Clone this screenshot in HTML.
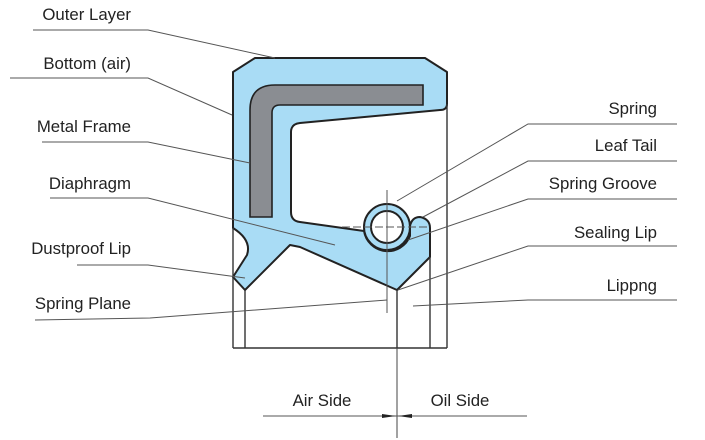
<!DOCTYPE html>
<html><head><meta charset="utf-8"><style>
html,body{margin:0;padding:0;background:#fff;}
svg{display:block;}
text{font-family:"Liberation Sans",Arial,sans-serif;font-size:16.8px;fill:#222;}
</style></head><body>
<svg width="705" height="440" viewBox="0 0 705 440" xmlns="http://www.w3.org/2000/svg">
<path d="M233,72 L255,58 L425,58 L447,72 L447,104 Q447,110 440,110 L300,123 Q291,124 291,132 L291,212 Q291,221 300,222 L364,231 A24,24 0 0 0 410,236 L410,226 Q412,217 420,217 Q430,219 430,228 L430,257 L397,290 L300,247 L290,245 L245,290 L233,277 L247,255 Q252,240 233,228 Z" fill="#a9dcf5" stroke="#222" stroke-width="2" stroke-linejoin="round"/>
<circle cx="387" cy="227" r="23" fill="#a9dcf5" stroke="#222" stroke-width="2"/>
<circle cx="387" cy="227" r="16" fill="#fff" stroke="#222" stroke-width="2"/>
<path d="M250,217 L250,110 Q250,85 275,85 L423,85 L423,105 L280,105 Q272,105 272,113 L272,217 Z" fill="#8a8d92" stroke="#222" stroke-width="1.6"/>
<g stroke="#555" stroke-width="1">
<line x1="387" y1="190" x2="387" y2="313"/>
<line x1="342" y1="227" x2="430" y2="227" stroke-dasharray="8,3"/>
</g>
<g stroke="#333" stroke-width="1.4" fill="none">
<line x1="233" y1="228" x2="233" y2="348"/>
<line x1="245" y1="290" x2="245" y2="348"/>
<line x1="397" y1="290" x2="397" y2="348"/>
<line x1="430" y1="257" x2="430" y2="348"/>
<line x1="447" y1="104" x2="447" y2="348"/>
<line x1="233" y1="348" x2="447" y2="348"/>
</g>
<line x1="397" y1="348" x2="397" y2="438" stroke="#444" stroke-width="1"/>
<g stroke="#555" stroke-width="1" fill="none">
<polyline points="33,30 148,30 275,58"/>
<polyline points="10,78 148,78 232,115"/>
<polyline points="42,142 148,142 250,163"/>
<polyline points="50,198 148,198 335,245"/>
<polyline points="77,265 148,265 245,278"/>
<polyline points="35,320 150,318 387,300"/>
<polyline points="677,124 528,124 397,201"/>
<polyline points="677,161 528,161 423,217"/>
<polyline points="677,199 528,199 408,240"/>
<polyline points="677,246 528,246 398,290"/>
<polyline points="677,300 528,300 413,306"/>
<line x1="263" y1="416" x2="527" y2="416"/>
</g>
<path d="M382,414 L396,416 L382,418 Z M412,414 L398,416 L412,418 Z" fill="#222"/>
<g text-anchor="end">
<text x="131" y="20">Outer Layer</text>
<text x="131" y="69">Bottom (air)</text>
<text x="131" y="132">Metal Frame</text>
<text x="131" y="189">Diaphragm</text>
<text x="131" y="254">Dustproof Lip</text>
<text x="131" y="309">Spring Plane</text>
<text x="657" y="114">Spring</text>
<text x="657" y="151">Leaf Tail</text>
<text x="657" y="189">Spring Groove</text>
<text x="657" y="238">Sealing Lip</text>
<text x="657" y="291">Lippng</text>
</g>
<text x="322" y="406" text-anchor="middle">Air Side</text>
<text x="460" y="406" text-anchor="middle">Oil Side</text>
</svg>
</body></html>
